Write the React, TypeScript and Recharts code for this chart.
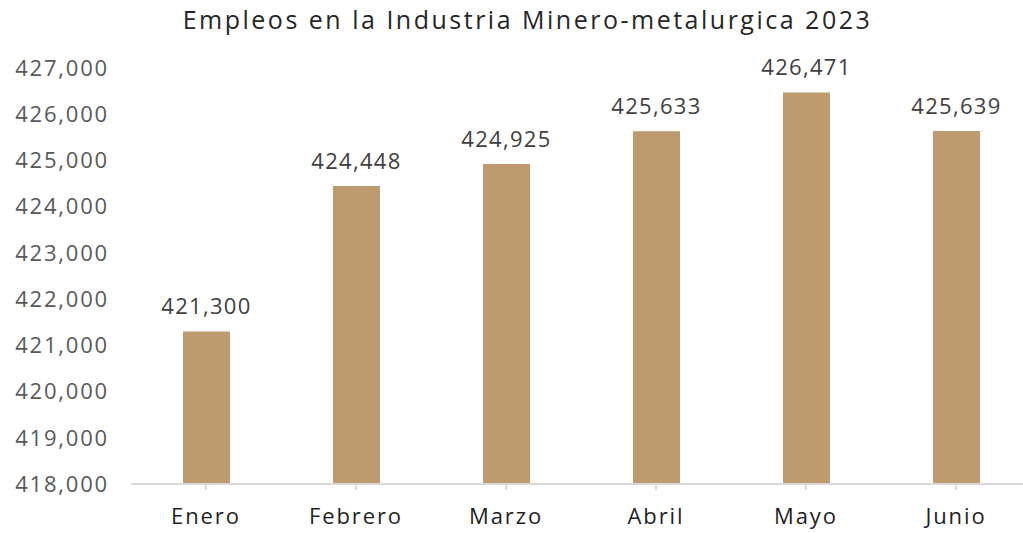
import React from "react";
import { BarChart, Bar, XAxis, YAxis, LabelList } from "recharts";

const months = ["Enero", "Febrero", "Marzo", "Abril", "Mayo", "Junio"];
const empleos = [421300, 424448, 424925, 425633, 426471, 425639];
const yTicks = [418000, 419000, 420000, 421000, 422000, 423000, 424000, 425000, 426000, 427000];
const title = "Empleos en la Industria Minero-metalurgica 2023";

const data = months.map((m, i) => ({ mes: m, valor: empleos[i] }));

const FONT = "'Open Sans', 'DejaVu Sans', sans-serif";
const fmt = (v: number) => v.toLocaleString("en-US");

export default function App() {
  return (
    <div
      style={{
        position: "absolute",
        left: 0,
        top: 0,
        width: 1023,
        height: 533,
        overflow: "hidden",
        background: "#ffffff",
        fontFamily: FONT,
      }}
    >
      <div
        style={{
          position: "absolute",
          left: 0,
          top: 2,
          width: 1055,
          textAlign: "center",
          fontSize: 25,
          color: "#262626",
          letterSpacing: 2.5,
        }}
      >
        {title}
      </div>
      <BarChart
        width={1031}
        height={533}
        data={data}
        margin={{ top: 68, right: 0, bottom: 0, left: 0 }}
        barSize={47}
        style={{ position: "absolute", left: 0, top: 0 }}
      >
        <XAxis
          dataKey="mes"
          height={49}
          axisLine={{ stroke: "#d9d9d9", strokeWidth: 2 }}
          tickLine={{ stroke: "#d9d9d9", strokeWidth: 2 }}
          tickSize={6}
          tickMargin={18}
          interval={0}
          tick={{ fill: "#1f1f1f", fontSize: 22, fontFamily: FONT, letterSpacing: 1.9 }}
        />
        <YAxis
          width={131}
          domain={[418000, 427000]}
          ticks={yTicks}
          allowDataOverflow
          axisLine={false}
          tickLine={false}
          tickSize={0}
          tickMargin={22}
          tickFormatter={fmt}
          tick={{ fill: "#595959", fontSize: 22, fontFamily: FONT, letterSpacing: 1.8 }}
        />
        <Bar dataKey="valor" fill="#BD9B6E" isAnimationActive={false}>
          <LabelList
            dataKey="valor"
            position="top"
            offset={17}
            formatter={(v: number) => fmt(v)}
            style={{ fill: "#404040", fontSize: 22, fontFamily: FONT, letterSpacing: 1.3 }}
          />
        </Bar>
      </BarChart>
    </div>
  );
}
